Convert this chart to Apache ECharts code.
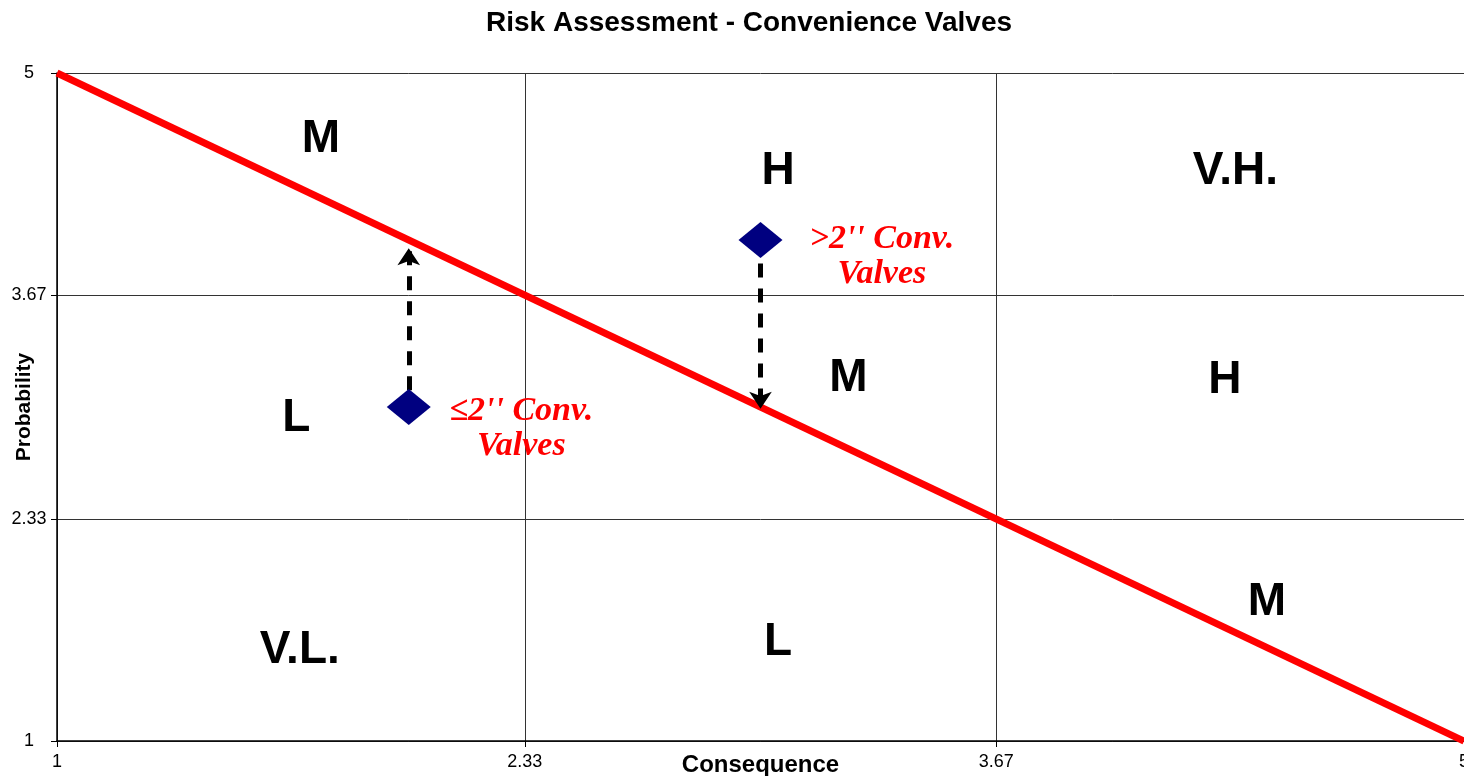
<!DOCTYPE html>
<html>
<head>
<meta charset="utf-8">
<title>Risk Assessment - Convenience Valves</title>
<script src="https://cdn.jsdelivr.net/npm/echarts@6/dist/echarts.min.js"></script>
<style>
  html, body { margin: 0; padding: 0; background: #fff; }
  #chart { width: 1464px; height: 776px; }
</style>
</head>
<body>
<div id="chart"></div>
<script>
// 坐标轴刻度
const tickValues = [1, 2.33, 3.67, 5]

// 风险分界线 (1,5) -> (5,1)
const riskLine = [[1, 5], [5, 1]]

// 阀门点
const valvePoints = [[2, 3], [3, 4]]

// 虚线箭头
const arrowPaths = [
  [[2, 3.1], [2, 3.95]],
  [[3, 3.86], [3, 2.99]]
]

// 区域标签
const zoneNames = ['M', 'H', 'V.H.', 'L', 'M', 'H', 'V.L.', 'L', 'M']
const zonePos = [
  [1.75, 4.6], [3.05, 4.41], [4.35, 4.41],
  [1.68, 2.93], [3.25, 3.17], [4.32, 3.16],
  [1.69, 1.545], [3.05, 1.59], [4.44, 1.83]
]

// 注释文字
const noteTexts = ['\u22642\'\' Conv.\nValves', '>2\'\' Conv.\nValves']
const notePos = [[2.32, 2.87], [3.345, 3.9]]

const chart = echarts.init(document.getElementById('chart'))

const axisCommon = {
  type: 'value',
  min: 1,
  max: 5,
  nameLocation: 'middle',
  nameMoveOverlap: false,
  axisLine: { lineStyle: { color: '#000', width: 1.5 } },
  axisTick: { show: true, length: 6, customValues: tickValues, lineStyle: { color: '#000' } },
  axisLabel: {
    customValues: tickValues,
    color: '#000',
    fontSize: 18,
    fontFamily: 'Liberation Sans, Arial, sans-serif',
    formatter: v => String(v)
  },
  splitLine: { show: true, lineStyle: { color: '#333', width: 1 } }
}

chart.setOption({
  animation: false,
  backgroundColor: '#fff',
  title: {
    text: 'Risk Assessment - Convenience Valves',
    left: 744,
    top: 4,
    textAlign: 'center',
    textStyle: {
      fontFamily: 'Liberation Sans, Arial, sans-serif',
      fontWeight: 'bold',
      fontSize: 28,
      color: '#000'
    }
  },
  grid: { left: 57, right: 0, top: 73, bottom: 35, outerBoundsMode: 'none', containLabel: false },
  xAxis: Object.assign({}, axisCommon, {
    name: 'Consequence',
    nameGap: 12,
    nameTextStyle: { fontFamily: 'Liberation Sans, Arial, sans-serif', fontWeight: 'bold', fontSize: 24, color: '#000' },
    axisLabel: Object.assign({}, axisCommon.axisLabel, { margin: 12 })
  }),
  yAxis: Object.assign({}, axisCommon, {
    name: 'Probability',
    nameGap: 22,
    nameTextStyle: { fontFamily: 'Liberation Sans, Arial, sans-serif', fontWeight: 'bold', fontSize: 21, color: '#000' },
    axisLabel: Object.assign({}, axisCommon.axisLabel, { margin: 28, align: 'center' })
  }),
  series: [
    {
      type: 'line',
      data: riskLine,
      showSymbol: false,
      clip: false,
      lineStyle: { color: '#ff0000', width: 7 },
      z: 3
    },
    {
      type: 'lines',
      coordinateSystem: 'cartesian2d',
      data: arrowPaths.map(p => ({ coords: p })),
      symbol: ['none', 'arrow'],
      symbolSize: [22, 17],
      lineStyle: { color: '#000', width: 5, type: [14, 11], opacity: 1 },
      z: 4
    },
    {
      type: 'scatter',
      data: valvePoints,
      symbol: 'diamond',
      symbolSize: [44, 36],
      itemStyle: { color: '#000080', opacity: 1 },
      z: 5
    },
    {
      type: 'scatter',
      data: zoneNames.map((n, i) => ({ name: n, value: zonePos[i] })),
      symbolSize: 1,
      itemStyle: { color: 'transparent', opacity: 1 },
      label: {
        show: true,
        position: 'inside',
        formatter: '{b}',
        fontFamily: 'Liberation Sans, Arial, sans-serif',
        fontWeight: 'bold',
        fontSize: 46,
        color: '#000',
        opacity: 1
      },
      z: 6
    },
    {
      type: 'scatter',
      data: noteTexts.map((t, i) => ({ name: t, value: notePos[i] })),
      symbolSize: 1,
      itemStyle: { color: 'transparent', opacity: 1 },
      label: {
        show: true,
        position: 'inside',
        formatter: '{b}',
        align: 'center',
        lineHeight: 35,
        fontFamily: 'Liberation Serif, Times New Roman, serif',
        fontStyle: 'italic',
        fontWeight: 'bold',
        fontSize: 34,
        color: '#ff0000',
        opacity: 1
      },
      z: 6
    }
  ]
})
</script>
</body>
</html>
